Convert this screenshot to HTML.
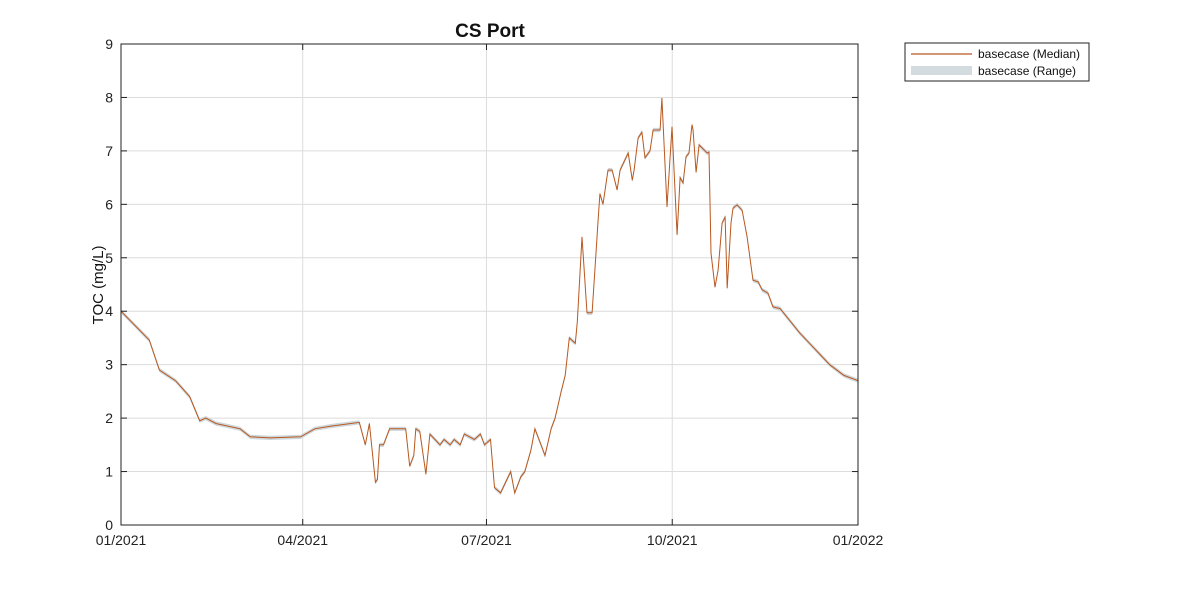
<!DOCTYPE html>
<html><head><meta charset="utf-8"><style>
body{margin:0;background:#fff;font-family:"Liberation Sans",sans-serif}
svg text{font-family:"Liberation Sans",sans-serif}
</style></head><body>
<svg id="chart" width="1181" height="591">
<rect x="0" y="0" width="1181" height="591" fill="#fff"/>
<g id="grid"></g>
<path id="band" fill="#c9d3d8" stroke="none" opacity="0.9"/>
<path id="line" fill="none" stroke="#b9581f" stroke-width="1"/>
<rect x="121" y="44" width="737" height="481" fill="none" stroke="#222" stroke-width="1"/>
<g id="ticks"></g>
<text x="490" y="37" text-anchor="middle" font-size="19" font-weight="bold" fill="#111">CS Port</text>
<text transform="translate(103,285) rotate(-90)" text-anchor="middle" font-size="15" fill="#111">TOC (mg/L)</text>
<g>
<rect x="905" y="43" width="184" height="38" fill="#fff" stroke="#222" stroke-width="1"/>
<line x1="911" y1="54" x2="972" y2="54" stroke="#b9581f" stroke-width="1.2"/>
<text x="978" y="58" font-size="12" fill="#111">basecase (Median)</text>
<rect x="911" y="66" width="61" height="9" fill="#d3dbdf"/>
<text x="978" y="75" font-size="12" fill="#111">basecase (Range)</text>
</g>
</svg>
<script>
const days=[0,14,19,27,34,39,42,47,59,64,74,89,96,104,118,121,123,126,127,128,130,133,141,143,145,146,148,151,153,158,160,163,165,168,170,175,178,180,183,185,188,193,195,198,200,203,205,208,210,213,215,218,220,222,225,226,228.3,230.8,233.3,234.8,236.3,237.2,238.7,241.2,243.2,245.7,247.2,251.2,253.2,254.1,256.1,258,259.5,262,263.5,267,267.9,270.4,272.9,275.4,276.9,278.4,279.8,281.3,282.8,283.3,284.8,286.3,290.3,291.2,292.2,294.2,295.7,297.7,299.2,300.2,302.1,303.1,305.1,307.6,310.1,313,315.5,317.5,320.4,322.9,326.4,336,341,346,351,358,365];
const median=[4.0,3.46,2.9,2.7,2.4,1.95,2.0,1.9,1.8,1.65,1.63,1.65,1.8,1.85,1.92,1.5,1.9,0.8,0.85,1.5,1.5,1.8,1.8,1.1,1.3,1.8,1.75,0.95,1.7,1.5,1.6,1.5,1.6,1.5,1.7,1.6,1.7,1.5,1.6,0.7,0.6,1.0,0.6,0.9,1.0,1.4,1.8,1.5,1.3,1.8,2.0,2.5,2.8,3.5,3.4,3.8,5.39,3.97,3.97,4.83,5.7,6.2,6.0,6.64,6.64,6.27,6.64,6.96,6.45,6.64,7.24,7.35,6.87,7.0,7.39,7.39,7.99,5.95,7.45,5.43,6.5,6.4,6.89,6.96,7.49,7.4,6.6,7.11,6.96,6.98,5.09,4.45,4.77,5.65,5.76,4.43,5.65,5.93,5.99,5.89,5.39,4.58,4.55,4.40,4.34,4.08,4.05,3.6,3.4,3.2,3.0,2.8,2.7];
const yTicks=[0,1,2,3,4,5,6,7,8,9];
const xTickDays=[0,90,181,273,365];
const xTickLabels=['01/2021','04/2021','07/2021','10/2021','01/2022'];
const L=121,R=858,T=44,B=525;
const sx=d=>L+d/365*(R-L);
const sy=v=>B-v/9*(B-T);
const ns='http://www.w3.org/2000/svg';
const grid=document.getElementById('grid'),ticks=document.getElementById('ticks');
function mk(p,tag,attrs){const e=document.createElementNS(ns,tag);for(const k in attrs)e.setAttribute(k,attrs[k]);p.appendChild(e);return e;}
yTicks.forEach(v=>{
  const y=sy(v);
  const g=mk(grid,'line',{x1:L,x2:R,y1:y,y2:y,stroke:'#dcdcdc','stroke-width':1});
  
  
  mk(ticks,'line',{x1:L,x2:L+6,y1:y,y2:y,stroke:'#222'});
  mk(ticks,'line',{x1:R-6,x2:R,y1:y,y2:y,stroke:'#222'});
  const t=mk(ticks,'text',{x:L-8,y:y+5,'text-anchor':'end','font-size':14,fill:'#222'});
  t.textContent=v;
  
  
});
xTickDays.forEach((d,i)=>{
  const x=sx(d);
  const g=mk(grid,'line',{x1:x,x2:x,y1:T,y2:B,stroke:'#dcdcdc','stroke-width':1});
  
  
  mk(ticks,'line',{x1:x,x2:x,y1:B,y2:B-6,stroke:'#222'});
  mk(ticks,'line',{x1:x,x2:x,y1:T,y2:T+6,stroke:'#222'});
  const t=mk(ticks,'text',{x:x,y:B+20,'text-anchor':'middle','font-size':14,fill:'#222'});
  t.textContent=xTickLabels[i];
  
  
});
let d='';days.forEach((dd,i)=>{d+=(i?'L':'M')+sx(dd).toFixed(1)+','+sy(median[i]).toFixed(1);});
document.getElementById('line').setAttribute('d',d);
let up='',lo='';
days.forEach((dd,i)=>{up+=(i?'L':'M')+sx(dd).toFixed(1)+','+sy(median[i]+0.04).toFixed(1);});
for(let i=days.length-1;i>=0;i--){lo+='L'+sx(days[i]).toFixed(1)+','+sy(median[i]-0.04).toFixed(1);}
document.getElementById('band').setAttribute('d',up+lo+'Z');
</script>
</body></html>
